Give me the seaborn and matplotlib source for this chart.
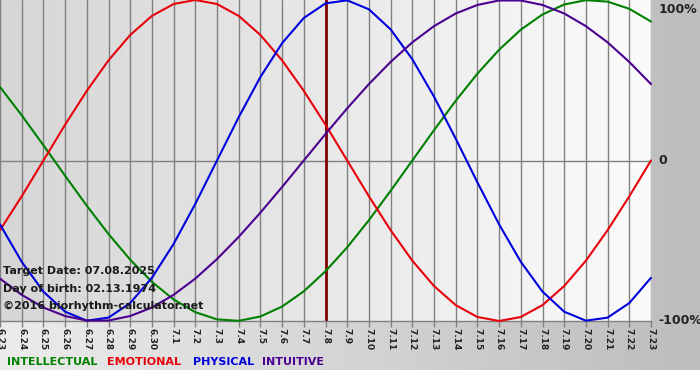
import numpy as np
import pandas as pd
import seaborn as sns
from matplotlib import pyplot as plt
from matplotlib.colors import LinearSegmentedColormap

sns.set_theme(style='white')
plt.rcParams['font.family'] = ['DejaVu Sans']

# one point per day, 6.23 .. 7.23, values in percent
days = ['6.23', '6.24', '6.25', '6.26', '6.27', '6.28', '6.29', '6.30',
        '7.1', '7.2', '7.3', '7.4', '7.5', '7.6', '7.7', '7.8', '7.9', '7.10',
        '7.11', '7.12', '7.13', '7.14', '7.15', '7.16', '7.17', '7.18', '7.19',
        '7.20', '7.21', '7.22', '7.23']
target_day = '7.8'

physical = [-39.8, -63.1, -81.7, -94.2, -99.8, -97.9, -88.8, -73.1, -52.0, -27.0,
            0.0, 27.0, 52.0, 73.1, 88.8, 97.9, 99.8, 94.2, 81.7, 63.1,
            39.8, 13.6, -13.6, -39.8, -63.1, -81.7, -94.2, -99.8, -97.9, -88.8, -73.1]
emotional = [-43.4, -22.3, 0.0, 22.3, 43.4, 62.4, 78.2, 90.1, 97.5, 100.0,
             97.5, 90.1, 78.2, 62.4, 43.4, 22.3, 0.0, -22.3, -43.4, -62.4,
             -78.2, -90.1, -97.5, -100.0, -97.5, -90.1, -78.2, -62.4, -43.4, -22.3, 0.0]
intellectual = [45.8, 28.2, 9.5, -9.5, -28.2, -45.8, -61.8, -75.6, -86.6, -94.5,
                -99.0, -99.9, -97.2, -91.0, -81.5, -69.0, -54.1, -37.2, -18.9, 0.0,
                18.9, 37.2, 54.1, 69.0, 81.5, 91.0, 97.2, 99.9, 99.0, 94.5, 86.6]
intuitive = [-73.6, -83.7, -91.6, -96.9, -99.7, -99.7, -96.9, -91.6, -83.7, -73.6,
             -61.4, -47.6, -32.5, -16.5, 0.0, 16.5, 32.5, 47.6, 61.4, 73.6,
             83.7, 91.6, 96.9, 99.7, 99.7, 96.9, 91.6, 83.7, 73.6, 61.4, 47.6]

cycles = ['INTELLECTUAL', 'EMOTIONAL', 'PHYSICAL', 'INTUITIVE']
colors = {'INTELLECTUAL': '#008000', 'EMOTIONAL': '#e8000b',
          'PHYSICAL': '#0000dd', 'INTUITIVE': '#4b0090'}

frames = []
for name, vals in zip(cycles, [intellectual, emotional, physical, intuitive]):
    frames.append(pd.DataFrame({'day': np.arange(len(days)), 'value': vals, 'cycle': name}))
df = pd.concat(frames, ignore_index=True)

W, H = 700, 380
fig = plt.figure(figsize=(W / 100, H / 100), dpi=100)

# outer grey panel
bg = fig.add_axes([0, 10 / H, 1, 370 / H])
bg.imshow(np.linspace(0, 1, 256)[None, :], aspect='auto', extent=[0, 1, 0, 1],
          cmap=LinearSegmentedColormap.from_list('o', ['#ececec', '#bdbdbd']))
bg.set_axis_off()

ax = fig.add_axes([0, 59 / H, 651 / W, 321 / H])
n = len(days) - 1
ax.imshow(np.linspace(0, 1, 256)[None, :], aspect='auto', extent=[0, n, -100, 100],
          cmap=LinearSegmentedColormap.from_list('p', ['#d6d6d6', '#fbfbfb']), zorder=0)

ax.set_xticks(np.arange(len(days)))
ax.set_xticklabels(days, rotation=270, fontsize=6.5, fontweight='bold', color='#222222')
ax.tick_params(axis='x', length=4, width=1, color='#808080', pad=1, bottom=True)
ax.grid(axis='x', color='#808080', lw=1, zorder=1)
ax.axhline(0, color='#808080', lw=1, zorder=1)
ax.axvline(days.index(target_day), color='#800000', lw=2, zorder=2)

sns.lineplot(data=df, x='day', y='value', hue='cycle', hue_order=cycles, palette=colors,
             linewidth=1.5, legend=False, ax=ax, zorder=3, clip_on=False)

ax.set_xlim(0, n)
ax.set_ylim(-100, 100)
ax.set_yticks([])
ax.set_xlabel('')
ax.set_ylabel('')
for side in ['top', 'right', 'left']:
    ax.spines[side].set_visible(False)
ax.spines['bottom'].set_color('#808080')
ax.spines['bottom'].set_linewidth(1)

kw = dict(transform=ax.transAxes, fontsize=9, fontweight='bold', color='#222222')
ax.text(1.0115, 0.99, '100%', va='top', **kw)
ax.text(1.0115, 0.5, '0', va='center', **kw)
ax.text(1.0115, 0.0, '-100%', va='center', **kw)

info = ['Target Date: 07.08.2025', 'Day of birth: 02.13.1974', '\u00a92016 biorhythm-calculator.net']
for i, t in enumerate(info):
    fig.text(3 / W, 1 - (271 + 17.5 * i) / H, t, va='center', fontsize=8,
             fontweight='bold', color='#1a1a1a', zorder=5)

xs = [7, 107, 193, 262]
for x, name in zip(xs, cycles):
    fig.text(x / W, 1 - 362 / H, name, va='center', fontsize=8,
             fontweight='bold', color=colors[name])

fig.savefig('out.png', dpi=100)
